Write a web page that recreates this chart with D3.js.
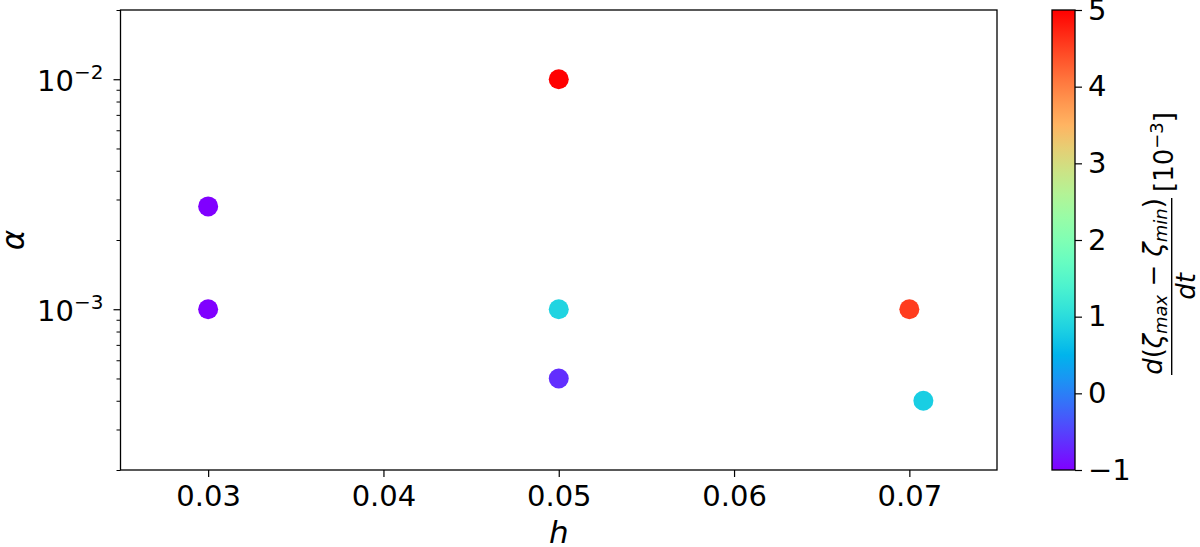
<!DOCTYPE html>
<html>
<head>
<meta charset="utf-8">
<script src="https://cdn.jsdelivr.net/npm/d3@7"></script>
<style>
  body { margin: 0; background: #fff; }
  svg, svg text { font-family: "DejaVu Sans", sans-serif; }
</style>
</head>
<body>
<div id="chart"></div>
<script>
// Data
var hVals = [0.03, 0.03, 0.05, 0.05, 0.05, 0.07, 0.0708];
var alphaVals = [0.0028, 0.001, 0.01, 0.001, 0.0005, 0.001, 0.0004];
var rateVals = [-1, -1, 5, 0.875, -0.65, 4.55, 0.8];

var xTicks = [0.03, 0.04, 0.05, 0.06, 0.07];
var yMajor = [1e-3, 1e-2];
var yMinor = [2e-4, 3e-4, 4e-4, 5e-4, 6e-4, 7e-4, 8e-4, 9e-4,
              2e-3, 3e-3, 4e-3, 5e-3, 6e-3, 7e-3, 8e-3, 9e-3, 2e-2];
var cTicks = [-1, 0, 1, 2, 3, 4, 5];

var svgWidth = 1200;
var svgHeight = 547;

var margin = { top: 10, left: 120.5 };
var width = 876.5;
var height = 460;
var font = "DejaVu Sans";

var svg = d3.select("#chart")
  .append("svg")
  .attr("width", svgWidth)
  .attr("height", svgHeight);

var chartGroup = svg.append("g")
  .attr("transform", `translate(${margin.left}, ${margin.top})`);

// matplotlib "rainbow" colormap
function rainbow(t) {
  t = Math.max(0, Math.min(1, t));
  var r = Math.min(1, Math.abs(2 * t - 0.5));
  var g = Math.sin(Math.PI * t);
  var b = Math.max(0, Math.cos(Math.PI * t / 2));
  return d3.rgb(r * 255, g * 255, b * 255).formatHex();
}

var xScale = d3.scaleLinear().domain([0.025, 0.075]).range([0, width]);
var yScale = d3.scaleLog().domain([2e-4, 2e-2]).range([height, 0]);
var cNorm = d3.scaleLinear().domain([-1, 5]).range([0, 1]);
var color = d => rainbow(cNorm(d));

// points
var points = hVals.map((h, i) => ({ h: h, a: alphaVals[i], v: rateVals[i] }));
chartGroup.selectAll("circle")
  .data(points)
  .enter()
  .append("circle")
  .attr("cx", d => xScale(d.h))
  .attr("cy", d => yScale(d.a))
  .attr("r", 10)
  .attr("fill", d => color(d.v));

// frame
chartGroup.append("rect")
  .attr("width", width)
  .attr("height", height)
  .attr("fill", "none")
  .attr("stroke", "#000")
  .attr("stroke-width", 1.3);

function styleAxis(g) {
  g.attr("font-family", font).attr("font-size", 29);
  g.select(".domain").remove();
  g.selectAll(".tick line").attr("stroke", "#000").attr("stroke-width", 1.2);
  g.selectAll(".tick text").attr("fill", "#000");
}

// x axis
var bottomAxis = d3.axisBottom(xScale)
  .tickValues(xTicks)
  .tickFormat(d3.format(".2f"))
  .tickSize(7)
  .tickPadding(8.5);
chartGroup.append("g")
  .attr("transform", `translate(0, ${height})`)
  .call(bottomAxis)
  .call(styleAxis);

// y axis, minor ticks
chartGroup.append("g")
  .call(d3.axisLeft(yScale).tickValues(yMinor).tickSize(4).tickFormat(""))
  .call(styleAxis)
  .call(g => g.selectAll(".tick line").attr("stroke-width", 1));

// y axis, major ticks with 10^n labels
var yAxisG = chartGroup.append("g")
  .call(d3.axisLeft(yScale).tickValues(yMajor).tickSize(7).tickFormat(""))
  .call(styleAxis);

yAxisG.selectAll(".tick").each(function(d) {
  var t = d3.select(this).select("text")
    .attr("x", -17)
    .attr("dy", null)
    .attr("y", 11.4)
    .attr("text-anchor", "end");
  t.append("tspan").text("10");
  t.append("tspan")
    .attr("dy", -12)
    .attr("font-size", "20px")
    .text("\u2212" + Math.round(-Math.log10(d)));
});

// axis labels
svg.append("text")
  .attr("x", margin.left + width / 2)
  .attr("y", 543)
  .attr("text-anchor", "middle")
  .attr("font-style", "italic")
  .attr("font-size", "31px")
  .text("h");

svg.append("text")
  .attr("transform", `translate(24, ${margin.top + height / 2}) rotate(-90)`)
  .attr("text-anchor", "middle")
  .attr("font-style", "italic")
  .attr("font-size", "31px")
  .text("α");

// colorbar
var cbX = 1052, cbW = 23;
var cScale = d3.scaleLinear().domain([-1, 5]).range([margin.top + height, margin.top]);

var grad = svg.append("defs").append("linearGradient")
  .attr("id", "cbgrad")
  .attr("x1", 0).attr("y1", 1).attr("x2", 0).attr("y2", 0);
d3.range(0, 1.0001, 0.05).forEach(function(t) {
  grad.append("stop")
    .attr("offset", t)
    .attr("stop-color", rainbow(t));
});

svg.append("rect")
  .attr("x", cbX)
  .attr("y", margin.top)
  .attr("width", cbW)
  .attr("height", height)
  .attr("fill", "url(#cbgrad)")
  .attr("stroke", "#000")
  .attr("stroke-width", 1.3);

svg.append("g")
  .attr("transform", `translate(${cbX + cbW}, 0)`)
  .call(d3.axisRight(cScale).tickValues(cTicks).tickFormat(d3.format("d")).tickSize(7).tickPadding(6))
  .call(styleAxis);

// colorbar label: d(zeta_max - zeta_min)/dt [10^-3]
var cl = svg.append("g")
  .attr("transform", "translate(1171.7, 375) rotate(-90)")
  .attr("font-family", font)
  .attr("font-size", "26px");

cl.append("line")
  .attr("x1", 0).attr("x2", 177)
  .attr("y1", 0).attr("y2", 0)
  .attr("stroke", "#000")
  .attr("stroke-width", 1.4);

var num = cl.append("text")
  .attr("x", 88.5)
  .attr("y", -10)
  .attr("text-anchor", "middle");
num.append("tspan").attr("font-style", "italic").text("d");
num.append("tspan").text("(");
num.append("tspan").attr("font-style", "italic").text("ζ");
num.append("tspan").attr("font-style", "italic").attr("font-size", "18px").attr("dy", 5).text("max");
num.append("tspan").attr("dy", -5).text(" \u2212 ");
num.append("tspan").attr("font-style", "italic").text("ζ");
num.append("tspan").attr("font-style", "italic").attr("font-size", "18px").attr("dy", 5).text("min");
num.append("tspan").attr("dy", -5).text(")");

cl.append("text")
  .attr("x", 88.5)
  .attr("y", 23)
  .attr("text-anchor", "middle")
  .attr("font-style", "italic")
  .text("dt");

var unit = cl.append("text")
  .attr("x", 183)
  .attr("y", 1);
unit.append("tspan").text("[10");
unit.append("tspan").attr("font-size", "18px").attr("dy", -10).text("\u22123");
unit.append("tspan").attr("dy", 10).text("]");
</script>
</body>
</html>
